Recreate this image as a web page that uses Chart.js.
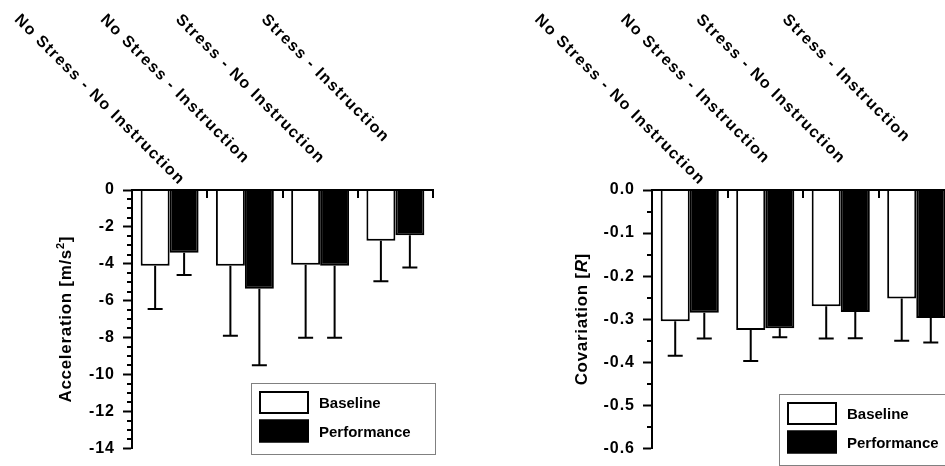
<!DOCTYPE html>
<html>
<head>
<meta charset="utf-8">
<script src="https://cdn.jsdelivr.net/npm/chart.js@4.4.1/dist/chart.umd.min.js"></script>
<style>
  html, body { margin: 0; padding: 0; background: #fff; overflow: hidden; }
  body { width: 945px; height: 466px; position: relative; }
  canvas { position: absolute; top: 0; }
  #accChart { left: 0; }
  #covChart { left: 480px; }
</style>
</head>
<body>
<canvas id="accChart" width="470" height="466"></canvas>
<canvas id="covChart" width="480" height="466"></canvas>
<script>
const conditions = ['No Stress - No Instruction', 'No Stress - Instruction', 'Stress - No Instruction', 'Stress - Instruction'];
const seriesNames = ['Baseline', 'Performance'];

// acceleration, mean and SD per condition [m/s^2]
const accBaseline      = [-4.1, -4.1, -4.05, -2.75];
const accBaselineSd    = [2.35, 3.8, 3.95, 2.2];
const accPerformance   = [-3.4, -5.35, -4.1, -2.45];
const accPerformanceSd = [1.2, 4.15, 3.9, 1.75];
const accTicks = [0, -2, -4, -6, -8, -10, -12, -14];

// covariation, mean and SD per condition [R]
const covBaseline      = [-0.305, -0.325, -0.27, -0.252];
const covBaselineSd    = [0.08, 0.072, 0.075, 0.098];
const covPerformance   = [-0.285, -0.321, -0.283, -0.297];
const covPerformanceSd = [0.06, 0.021, 0.061, 0.057];
const covTicks = [0, -0.1, -0.2, -0.3, -0.4, -0.5, -0.6];

const FONT = "'Liberation Sans', Arial, Helvetica, sans-serif";

// draws a rotated axis title made of mixed-style pieces (italic, superscript)
function drawRichTitle(ctx, parts, x, y) {
    const fontFor = p => (p.italic ? 'italic ' : '') + 'bold ' + (p.sup ? 11 : 17) + 'px ' + FONT;
    let total = 0;
    ctx.letterSpacing = '0.7px';
    parts.forEach(p => { ctx.font = fontFor(p); p.w = ctx.measureText(p.t).width; total += p.w; });
    ctx.save();
    ctx.translate(x, y);
    ctx.rotate(-Math.PI / 2);
    ctx.textAlign = 'left';
    ctx.textBaseline = 'alphabetic';
    ctx.fillStyle = '#000';
    let cx = -total / 2;
    parts.forEach(p => {
        ctx.font = fontFor(p);
        ctx.fillText(p.t, cx, p.sup ? -1 : 6);
        cx += p.w;
    });
    ctx.restore();
}

// top axis, category ticks, slanted labels, minor ticks, error bars, legend
const decor = {
    id: 'decor',
    beforeDraw(chart) {
        chart.ctx.letterSpacing = '1px';
    },
    afterDatasetsDraw(chart) {
        const ctx = chart.ctx, ys = chart.scales.y;
        ctx.save();
        ctx.strokeStyle = '#000';
        ctx.lineWidth = 2;
        chart.data.datasets.forEach((ds, di) => {
            chart.getDatasetMeta(di).data.forEach((bar, i) => {
                const top = ys.getPixelForValue(ds.data[i]);
                const end = ys.getPixelForValue(ds.data[i] - ds.errors[i]);
                ctx.beginPath();
                ctx.moveTo(bar.x, top);
                ctx.lineTo(bar.x, end);
                ctx.moveTo(bar.x - 7.5, end);
                ctx.lineTo(bar.x + 7.5, end);
                ctx.stroke();
            });
        });
        ctx.restore();
    },
    afterDraw(chart, args, o) {
        const ctx = chart.ctx, area = chart.chartArea;
        const xs = chart.scales.x, ys = chart.scales.y;
        const n = chart.data.labels.length;
        const catW = (xs.right - xs.left) / n;
        ctx.save();
        ctx.strokeStyle = '#000';
        ctx.lineWidth = 2;

        // top axis line with ticks between the groups
        ctx.beginPath();
        ctx.moveTo(area.left - 1, area.top);
        ctx.lineTo(area.right + 1, area.top);
        for (let k = 1; k <= n; k++) {
            const x = Math.round(xs.left + k * catW);
            ctx.moveTo(x, area.top);
            ctx.lineTo(x, area.top + 8);
        }
        ctx.stroke();

        // minor ticks on the value axis
        const major = Math.abs(o.ticks[1] - o.ticks[0]);
        const ratio = Math.round(major / o.minorStep);
        const count = Math.round((ys.max - ys.min) / o.minorStep);
        ctx.beginPath();
        for (let k = 1; k < count; k++) {
            if (k % ratio === 0) continue;
            const y = Math.round(ys.getPixelForValue(ys.max - k * o.minorStep));
            ctx.moveTo(area.left - 5, y);
            ctx.lineTo(area.left, y);
        }
        ctx.stroke();

        // slanted condition labels above the plot
        ctx.fillStyle = '#000';
        ctx.font = 'bold 16px ' + FONT;
        ctx.letterSpacing = '1.4px';
        ctx.textAlign = 'center';
        ctx.textBaseline = 'middle';
        chart.data.labels.forEach((lab, i) => {
            const w = ctx.measureText(lab).width;
            const cx = xs.getPixelForValue(i) - 70;
            const cy = 13 + (w + 12) * Math.SQRT1_2 / 2;
            ctx.save();
            ctx.translate(cx, cy);
            ctx.rotate(Math.PI / 4);
            ctx.fillText(lab, 0, 0);
            ctx.restore();
        });

        // value axis title
        drawRichTitle(ctx, o.title, area.left + o.titleDx, (area.top + area.bottom) / 2);

        // legend box
        ctx.letterSpacing = '0px';
        const lx = area.left + o.legendDx, ly = area.top + o.legendDy;
        ctx.strokeStyle = '#808080';
        ctx.lineWidth = 1;
        ctx.strokeRect(lx + 0.5, ly + 0.5, 184, 71);
        ctx.font = 'bold 15px ' + FONT;
        ctx.textAlign = 'left';
        ctx.textBaseline = 'middle';
        chart.data.datasets.forEach((ds, i) => {
            const sy = ly + 8 + i * 28.5;
            ctx.fillStyle = ds.backgroundColor;
            ctx.fillRect(lx + 8, sy, 50, 23);
            ctx.strokeStyle = ds.borderColor;
            ctx.lineWidth = 2;
            ctx.strokeRect(lx + 9, sy + 1, 48, 21);
            ctx.fillStyle = '#000';
            ctx.fillText(ds.label, lx + 68, sy + 13);
        });
        ctx.restore();
        ctx.letterSpacing = '0px';
    }
};

function makeChart(id, cfg) {
    return new Chart(document.getElementById(id), {
        type: 'bar',
        data: {
            labels: conditions,
            datasets: [{
                label: seriesNames[0],
                data: cfg.baseline,
                errors: cfg.baselineSd,
                backgroundColor: '#ffffff',
                borderColor: '#000000',
                borderWidth: 2
            }, {
                label: seriesNames[1],
                data: cfg.performance,
                errors: cfg.performanceSd,
                backgroundColor: '#000000',
                borderColor: '#000000',
                borderWidth: 2
            }]
        },
        options: {
            responsive: false,
            animation: false,
            devicePixelRatio: 1,
            categoryPercentage: 0.77,
            barPercentage: 1.0,
            layout: { padding: { top: 190, left: 0, right: cfg.padRight, bottom: 9 } },
            scales: {
                x: { display: false, offset: true },
                y: {
                    min: cfg.ticks[cfg.ticks.length - 1],
                    max: cfg.ticks[0],
                    afterBuildTicks: s => { s.ticks = cfg.ticks.map(v => ({ value: v })); },
                    afterFit: s => { s.width = cfg.axisWidth; },
                    border: { display: true, color: '#000', width: 2 },
                    grid: { drawOnChartArea: false, drawTicks: true, tickLength: 9, tickWidth: 2, tickColor: '#000' },
                    ticks: {
                        color: '#000',
                        padding: 8,
                        font: { family: FONT, size: 16, weight: 'bold' },
                        callback: v => cfg.fmt(v)
                    }
                }
            },
            plugins: {
                legend: { display: false },
                tooltip: { enabled: false },
                decor: {
                    ticks: cfg.ticks,
                    minorStep: cfg.minorStep,
                    title: cfg.title,
                    titleDx: cfg.titleDx,
                    legendDx: cfg.legendDx,
                    legendDy: cfg.legendDy
                }
            }
        },
        plugins: [decor]
    });
}

makeChart('accChart', {
    baseline: accBaseline, baselineSd: accBaselineSd,
    performance: accPerformance, performanceSd: accPerformanceSd,
    ticks: accTicks, minorStep: 0.5, fmt: v => String(v),
    axisWidth: 132, padRight: 37,
    title: [{ t: 'Acceleration [m/s' }, { t: '2', sup: true }, { t: ']' }],
    titleDx: -67, legendDx: 119, legendDy: 193
});

makeChart('covChart', {
    baseline: covBaseline, baselineSd: covBaselineSd,
    performance: covPerformance, performanceSd: covPerformanceSd,
    ticks: covTicks, minorStep: 0.05, fmt: v => v.toFixed(1),
    axisWidth: 172, padRight: 6,
    title: [{ t: 'Covariation [' }, { t: 'R', italic: true }, { t: ']' }],
    titleDx: -71, legendDx: 127, legendDy: 204
});
</script>
</body>
</html>
